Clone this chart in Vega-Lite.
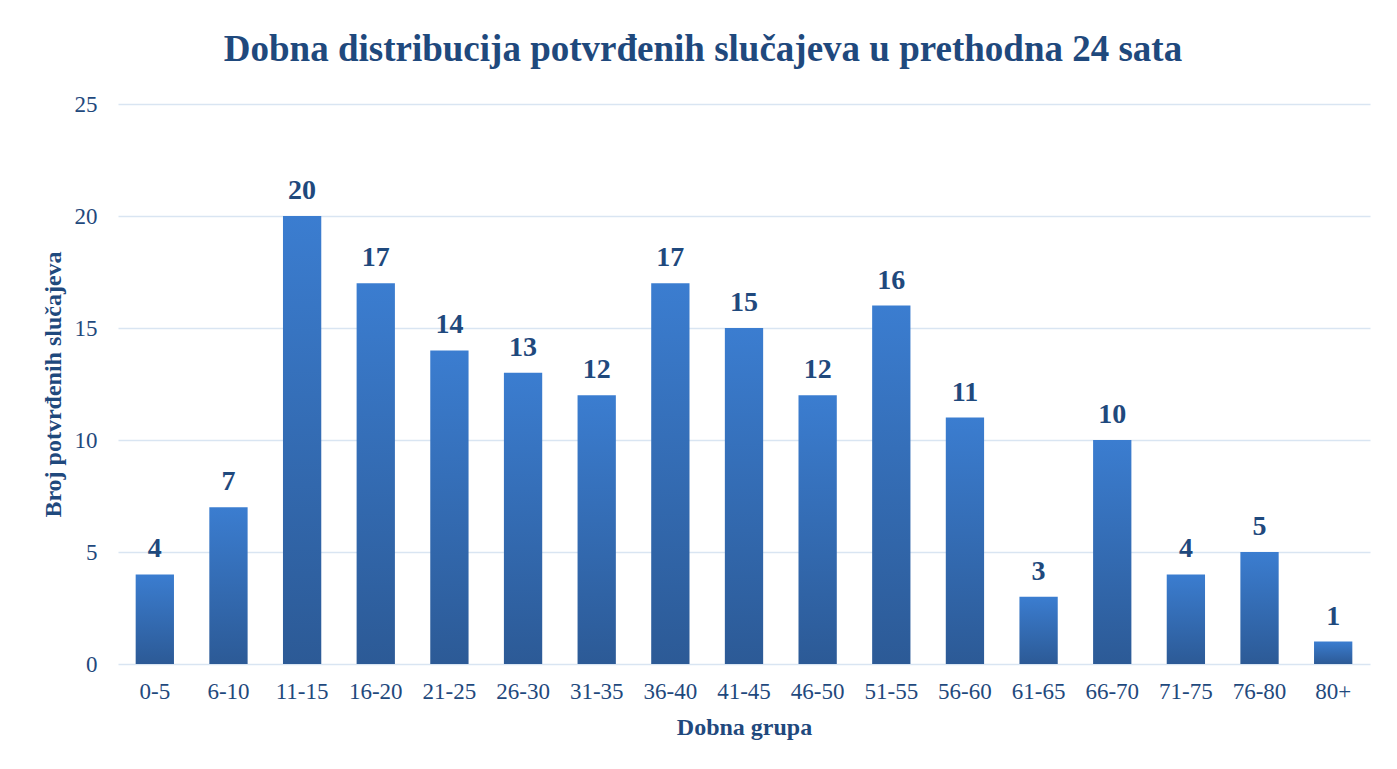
{
  "$schema": "https://vega.github.io/schema/vega-lite/v6.json",
  "autosize": {"type": "none"},
  "width": 1252,
  "height": 560,
  "padding": {"left": 118, "top": 104, "right": 27, "bottom": 105},
  "background": "white",
  "title": {
    "text": "Dobna distribucija potvrđenih slučajeva u prethodna 24 sata",
    "font": "Liberation Serif",
    "fontSize": 37,
    "fontWeight": "bold",
    "color": "#1F497D",
    "anchor": "middle",
    "offset": 24,
    "dx": -41
  },
  "data": {
    "values": [
      {"grupa": "0-5", "broj": 4},
      {"grupa": "6-10", "broj": 7},
      {"grupa": "11-15", "broj": 20},
      {"grupa": "16-20", "broj": 17},
      {"grupa": "21-25", "broj": 14},
      {"grupa": "26-30", "broj": 13},
      {"grupa": "31-35", "broj": 12},
      {"grupa": "36-40", "broj": 17},
      {"grupa": "41-45", "broj": 15},
      {"grupa": "46-50", "broj": 12},
      {"grupa": "51-55", "broj": 16},
      {"grupa": "56-60", "broj": 11},
      {"grupa": "61-65", "broj": 3},
      {"grupa": "66-70", "broj": 10},
      {"grupa": "71-75", "broj": 4},
      {"grupa": "76-80", "broj": 5},
      {"grupa": "80+", "broj": 1}
    ]
  },
  "encoding": {
    "x": {
      "field": "grupa",
      "type": "nominal",
      "sort": null,
      "scale": {"paddingInner": 0.48, "paddingOuter": 0.24},
      "axis": {
        "title": "Dobna grupa",
        "labelAngle": 0,
        "labelFont": "Liberation Serif",
        "labelFontSize": 23,
        "labelColor": "#1F497D",
        "labelPadding": 16,
        "titleFont": "Liberation Serif",
        "titleFontSize": 24,
        "titleFontWeight": "bold",
        "titleColor": "#1F497D",
        "titlePadding": 12,
        "ticks": false,
        "domain": false
      }
    },
    "y": {
      "field": "broj",
      "type": "quantitative",
      "scale": {"domain": [0, 25]},
      "axis": {
        "title": "Broj potvrđenih slučajeva",
        "values": [0, 5, 10, 15, 20, 25],
        "labelFont": "Liberation Serif",
        "labelFontSize": 23,
        "labelColor": "#1F497D",
        "labelPadding": 21,
        "titleFont": "Liberation Serif",
        "titleFontSize": 24,
        "titleFontWeight": "bold",
        "titleColor": "#1F497D",
        "titlePadding": 9,
        "ticks": false,
        "domain": false,
        "gridColor": "#D9E5F2",
        "gridWidth": 1.5
      }
    }
  },
  "layer": [
    {
      "mark": {
        "type": "bar",
        "color": {
          "gradient": "linear",
          "x1": 0, "y1": 0, "x2": 0, "y2": 1,
          "stops": [
            {"offset": 0, "color": "#3B7DD0"},
            {"offset": 1, "color": "#2C5A96"}
          ]
        }
      }
    },
    {
      "mark": {
        "type": "text",
        "baseline": "alphabetic",
        "dy": -17,
        "font": "Liberation Serif",
        "fontSize": 28,
        "fontWeight": "bold",
        "color": "#1F497D"
      },
      "encoding": {"text": {"field": "broj", "type": "quantitative"}}
    }
  ],
  "config": {"view": {"stroke": null}}
}
